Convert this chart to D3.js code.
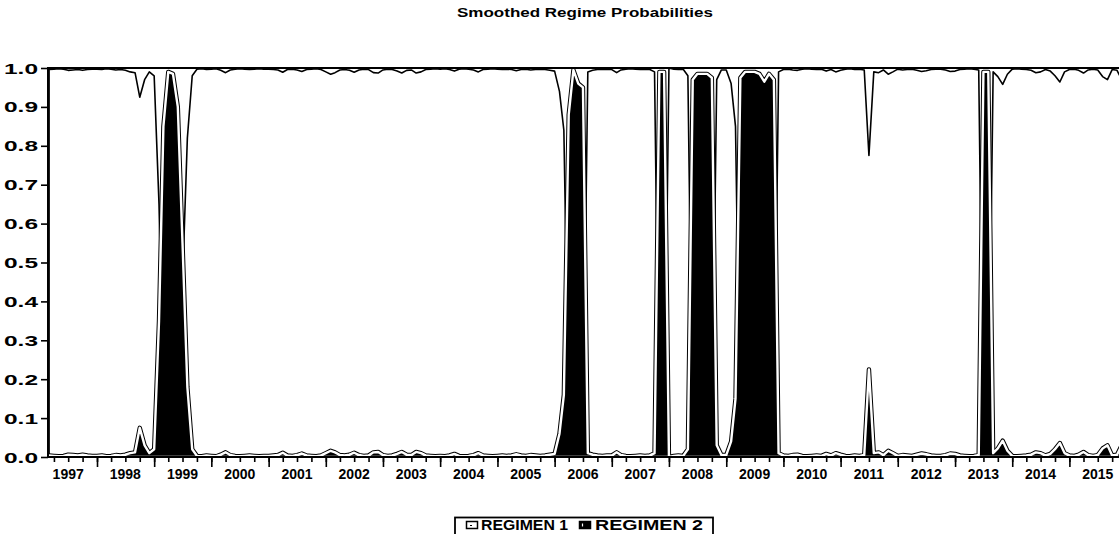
<!DOCTYPE html>
<html>
<head>
<meta charset="utf-8">
<script src="https://cdn.jsdelivr.net/npm/d3@7"></script>
<style>
  html, body { margin: 0; padding: 0; background: #fff; }
  svg { display: block; }
  text { font-family: "Liberation Sans", Arial, Helvetica, sans-serif; fill: #000; }
</style>
</head>
<body>
<svg id="chart" width="1119" height="534"></svg>
<script>
// ---- data -------------------------------------------------------------
const chartTitle = "Smoothed Regime Probabilities";
const seriesNames = ["REGIMEN 1", "REGIMEN 2"];
const firstMonth = "1997-03";
const lastMonth = "2015-12";
const yearLabels = ["1997", "1998", "1999", "2000", "2001", "2002", "2003", "2004", "2005",
  "2006", "2007", "2008", "2009", "2010", "2011", "2012", "2013", "2014", "2015"];
const yTicks = [0.0, 0.1, 0.2, 0.3, 0.4, 0.5, 0.6, 0.7, 0.8, 0.9, 1.0];

// smoothed probability of regime 1, monthly
const regime1 = [
  /* 1997 (Mar-Dec) */ 0.996, 0.997, 0.998, 0.997, 0.994, 0.995, 0.996, 0.994, 0.996, 0.997,
  /* 1998 */ 0.997, 0.996, 0.998, 0.997, 0.995, 0.996, 0.994, 0.990, 0.988, 0.925, 0.970, 0.990,
  /* 1999 */ 0.980, 0.650, 0.150, 0.010, 0.015, 0.100, 0.450, 0.820, 0.980, 0.997, 0.998, 0.996,
  /* 2000 */ 0.997, 0.998, 0.994, 0.988, 0.995, 0.997, 0.998, 0.997, 0.996, 0.997, 0.998, 0.997,
  /* 2001 */ 0.997, 0.996, 0.995, 0.989, 0.996, 0.997, 0.995, 0.991, 0.996, 0.997, 0.998, 0.996,
  /* 2002 */ 0.990, 0.984, 0.988, 0.995, 0.996, 0.994, 0.989, 0.995, 0.997, 0.996, 0.988, 0.987,
  /* 2003 */ 0.995, 0.997, 0.996, 0.992, 0.987, 0.994, 0.995, 0.987, 0.990, 0.996, 0.997, 0.998,
  /* 2004 */ 0.997, 0.998, 0.996, 0.992, 0.997, 0.998, 0.997, 0.995, 0.990, 0.996, 0.997, 0.998,
  /* 2005 */ 0.997, 0.996, 0.997, 0.996, 0.993, 0.996, 0.997, 0.995, 0.996, 0.997, 0.996, 0.994,
  /* 2006 */ 0.992, 0.940, 0.840, 0.120, 0.005, 0.040, 0.050, 0.990, 0.994, 0.996, 0.997, 0.996,
  /* 2007 */ 0.996, 0.988, 0.995, 0.997, 0.998, 0.997, 0.996, 0.997, 0.996, 0.990, 0.010, 0.010,
  /* 2008 */ 1.000, 0.997, 0.996, 0.997, 0.980, 0.030, 0.015, 0.015, 0.015, 0.025, 0.970, 0.995,
  /* 2009 */ 0.995, 0.960, 0.850, 0.025, 0.010, 0.010, 0.010, 0.015, 0.035, 0.015, 0.030, 0.990,
  /* 2010 */ 0.996, 0.997, 0.995, 0.994, 0.997, 0.998, 0.997, 0.996, 0.997, 0.992, 0.996, 0.990,
  /* 2011 */ 0.994, 0.997, 0.998, 0.996, 0.997, 0.995, 0.775, 0.990, 0.988, 0.995, 0.984, 0.990,
  /* 2012 */ 0.997, 0.995, 0.996, 0.997, 0.994, 0.991, 0.993, 0.996, 0.997, 0.997, 0.995, 0.991,
  /* 2013 */ 0.992, 0.996, 0.997, 0.998, 0.997, 0.995, 0.010, 0.010, 0.990, 0.978, 0.958, 0.984,
  /* 2014 */ 0.997, 0.998, 0.997, 0.996, 0.994, 0.988, 0.990, 0.996, 0.992, 0.980, 0.964, 0.990,
  /* 2015 */ 0.996, 0.997, 0.994, 0.987, 0.995, 0.997, 0.995, 0.978, 0.970, 0.996, 0.994, 0.970
];

// smoothed probability of regime 2, monthly
const regime2 = [
  /* 1997 (Mar-Dec) */ 0.004, 0.003, 0.002, 0.003, 0.006, 0.005, 0.004, 0.006, 0.004, 0.003,
  /* 1998 */ 0.003, 0.004, 0.002, 0.003, 0.005, 0.004, 0.006, 0.010, 0.012, 0.075, 0.030, 0.010,
  /* 1999 */ 0.020, 0.350, 0.850, 0.990, 0.985, 0.900, 0.550, 0.180, 0.020, 0.003, 0.002, 0.004,
  /* 2000 */ 0.003, 0.002, 0.006, 0.012, 0.005, 0.003, 0.002, 0.003, 0.004, 0.003, 0.002, 0.003,
  /* 2001 */ 0.003, 0.004, 0.005, 0.011, 0.004, 0.003, 0.005, 0.009, 0.004, 0.003, 0.002, 0.004,
  /* 2002 */ 0.010, 0.016, 0.012, 0.005, 0.004, 0.006, 0.011, 0.005, 0.003, 0.004, 0.012, 0.013,
  /* 2003 */ 0.005, 0.003, 0.004, 0.008, 0.013, 0.006, 0.005, 0.013, 0.010, 0.004, 0.003, 0.002,
  /* 2004 */ 0.003, 0.002, 0.004, 0.008, 0.003, 0.002, 0.003, 0.005, 0.010, 0.004, 0.003, 0.002,
  /* 2005 */ 0.003, 0.004, 0.003, 0.004, 0.007, 0.004, 0.003, 0.005, 0.004, 0.003, 0.004, 0.006,
  /* 2006 */ 0.008, 0.060, 0.160, 0.880, 0.995, 0.960, 0.950, 0.010, 0.006, 0.004, 0.003, 0.004,
  /* 2007 */ 0.004, 0.012, 0.005, 0.003, 0.002, 0.003, 0.004, 0.003, 0.004, 0.010, 0.990, 0.990,
  /* 2008 */ 0.000, 0.003, 0.004, 0.003, 0.020, 0.970, 0.985, 0.985, 0.985, 0.975, 0.030, 0.005,
  /* 2009 */ 0.005, 0.040, 0.150, 0.975, 0.990, 0.990, 0.990, 0.985, 0.965, 0.985, 0.970, 0.010,
  /* 2010 */ 0.004, 0.003, 0.005, 0.006, 0.003, 0.002, 0.003, 0.004, 0.003, 0.008, 0.004, 0.010,
  /* 2011 */ 0.006, 0.003, 0.002, 0.004, 0.003, 0.005, 0.225, 0.010, 0.012, 0.005, 0.016, 0.010,
  /* 2012 */ 0.003, 0.005, 0.004, 0.003, 0.006, 0.009, 0.007, 0.004, 0.003, 0.003, 0.005, 0.009,
  /* 2013 */ 0.008, 0.004, 0.003, 0.002, 0.003, 0.005, 0.990, 0.990, 0.010, 0.022, 0.042, 0.016,
  /* 2014 */ 0.003, 0.002, 0.003, 0.004, 0.006, 0.012, 0.010, 0.004, 0.008, 0.020, 0.036, 0.010,
  /* 2015 */ 0.004, 0.003, 0.006, 0.013, 0.005, 0.003, 0.005, 0.022, 0.030, 0.004, 0.006, 0.030
];

// ---- layout -------------------------------------------------------------
const svg = d3.select("#chart");
const plot = { left: 48, right: 1130, top: 68, bottom: 457 };

const parseMonth = d3.timeParse("%Y-%m");
const months = d3.timeMonth.range(parseMonth(firstMonth),
                                  d3.timeMonth.offset(parseMonth(lastMonth), 1));

const x = d3.scaleTime()
  .domain([new Date(1998, 0, 1), new Date(2015, 0, 1)])
  .range([97, 1069.4]);
const y = d3.scaleLinear().domain([0, 1]).range([plot.bottom, plot.top]);

const rows1 = months.map((d, i) => ({ date: d, v: regime1[i] }));
const rows2 = months.map((d, i) => ({ date: d, v: regime2[i] }));

const area = d3.area()
  .x(d => x(d.date))
  .y0(y(0))
  .y1(d => y(d.v));

svg.append("defs").append("clipPath").attr("id", "plotClip")
  .append("rect")
  .attr("x", plot.left).attr("y", plot.top - 4)
  .attr("width", plot.right - plot.left).attr("height", plot.bottom - plot.top + 4);

const body = svg.append("g").attr("clip-path", "url(#plotClip)");

// regime 1: open area with a black outline
body.append("path")
  .attr("d", area(rows1))
  .attr("fill", "#fff")
  .attr("stroke", "#000")
  .attr("stroke-width", 1.6)
  .attr("stroke-linejoin", "round");

// regime 2: solid area, edged with a black rim and a white inner line
const a2 = area(rows2);
body.append("path")
  .attr("d", a2)
  .attr("fill", "#000")
  .attr("stroke", "#000")
  .attr("stroke-width", 4.4)
  .attr("stroke-linejoin", "round");
body.append("path")
  .attr("d", a2)
  .attr("fill", "none")
  .attr("stroke", "#fff")
  .attr("stroke-width", 2.4)
  .attr("stroke-linejoin", "round");

// frame
svg.append("line")
  .attr("x1", plot.left).attr("x2", plot.right)
  .attr("y1", plot.top).attr("y2", plot.top)
  .attr("stroke", "#000").attr("stroke-width", 2);
svg.append("line")
  .attr("x1", plot.left).attr("x2", plot.left)
  .attr("y1", plot.top - 1).attr("y2", plot.bottom + 1)
  .attr("stroke", "#000").attr("stroke-width", 2);
svg.append("line")
  .attr("x1", plot.left - 1).attr("x2", plot.right)
  .attr("y1", plot.bottom).attr("y2", plot.bottom)
  .attr("stroke", "#000").attr("stroke-width", 2);

// x axis: quarterly minor ticks, yearly major ticks, labels centred on each year
const minorTicks = d3.timeMonth.every(3).range(new Date(1997, 3, 1), new Date(2016, 0, 1));
const majorTicks = d3.timeYear.range(new Date(1998, 0, 1), new Date(2016, 0, 1));

const xMinor = svg.append("g")
  .attr("transform", `translate(0,${plot.bottom})`)
  .call(d3.axisBottom(x).tickValues(minorTicks).tickSize(5).tickFormat(""));
const xMajor = svg.append("g")
  .attr("transform", `translate(0,${plot.bottom})`)
  .call(d3.axisBottom(x).tickValues(majorTicks).tickSize(10).tickFormat(""));
[xMinor, xMajor].forEach(g => {
  g.select(".domain").remove();
  g.selectAll(".tick line").attr("stroke", "#000").attr("stroke-width", 1.6);
});

svg.append("g").selectAll("text")
  .data(yearLabels)
  .join("text")
  .attr("x", d => x(new Date(+d, 6, 1)))
  .attr("y", 479)
  .attr("text-anchor", "middle")
  .attr("font-size", 14)
  .attr("font-weight", "bold")
  .text(d => d);

// y axis
const yAxis = svg.append("g")
  .attr("transform", `translate(${plot.left},0)`)
  .call(d3.axisLeft(y).tickValues(yTicks).tickSize(7).tickPadding(3)
    .tickFormat(d3.format(".1f")));
yAxis.select(".domain").remove();
yAxis.selectAll(".tick line").attr("stroke", "#000").attr("stroke-width", 1.6);
yAxis.selectAll(".tick text")
  .attr("fill", "#000")
  .attr("font-size", 14)
  .attr("font-weight", "bold")
  .attr("font-family", "'Liberation Sans', Arial, sans-serif")
  .attr("dy", "0.36em")
  .attr("textLength", 34)
  .attr("lengthAdjust", "spacingAndGlyphs");

// title
svg.append("text")
  .attr("x", 457).attr("y", 17)
  .attr("font-size", 13.5)
  .attr("font-weight", "bold")
  .attr("textLength", 256)
  .attr("lengthAdjust", "spacingAndGlyphs")
  .text(chartTitle);

// legend
const legend = svg.append("g");
legend.append("rect")
  .attr("x", 455).attr("y", 517.5)
  .attr("width", 258).attr("height", 30)
  .attr("fill", "#fff").attr("stroke", "#000").attr("stroke-width", 1.8);

// swatch: regime 1
legend.append("rect")
  .attr("x", 466.5).attr("y", 521.5).attr("width", 11).attr("height", 7)
  .attr("fill", "#fff").attr("stroke", "#000").attr("stroke-width", 1.5);
legend.append("line")
  .attr("x1", 470).attr("x2", 472).attr("y1", 525.5).attr("y2", 525.5)
  .attr("stroke", "#000").attr("stroke-width", 1.2);
legend.append("text")
  .attr("x", 481).attr("y", 530)
  .attr("font-size", 14).attr("font-weight", "bold")
  .attr("textLength", 87).attr("lengthAdjust", "spacingAndGlyphs")
  .text(seriesNames[0]);

// swatch: regime 2
legend.append("rect")
  .attr("x", 579.5).attr("y", 521.5).attr("width", 11).attr("height", 7)
  .attr("fill", "#000").attr("stroke", "#000").attr("stroke-width", 1.5);
legend.append("line")
  .attr("x1", 582.5).attr("x2", 582.5).attr("y1", 523.5).attr("y2", 526.5)
  .attr("stroke", "#fff").attr("stroke-width", 1.2);
legend.append("text")
  .attr("x", 595).attr("y", 530)
  .attr("font-size", 14).attr("font-weight", "bold")
  .attr("textLength", 108).attr("lengthAdjust", "spacingAndGlyphs")
  .text(seriesNames[1]);
</script>
</body>
</html>
